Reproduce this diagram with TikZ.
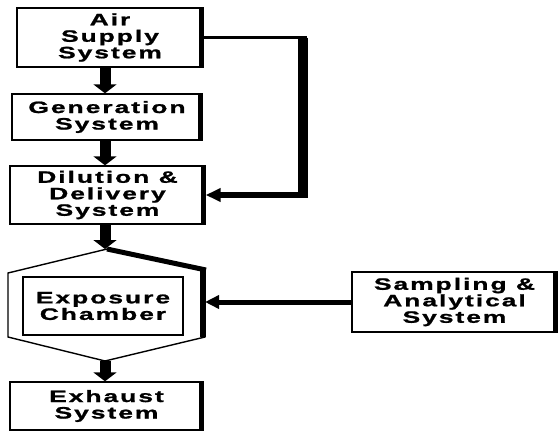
\documentclass[tikz,border=0pt]{standalone}
\usepackage{fontspec}
\newfontfamily\boxfont{Liberation Sans}[FakeStretch=1.6,LetterSpace=12,FakeBold=1.2]
\usetikzlibrary{arrows.meta}
\begin{document}
\begin{tikzpicture}[x=1pt,y=-1pt,
  box/.style={draw,line width=1.4pt,inner sep=0pt,align=center,
    font=\boxfont\bfseries\fontsize{16.5}{16.5}\selectfont},
  shadowedge/.style={line width=5pt},
  flow/.style={line width=11pt,-{Triangle[length=9pt,width=23pt]}}]
\useasboundingbox (0,0) rectangle (558,432);
% boxes
\node[box,minimum width=186pt,minimum height=59pt] (air) at (110,37.5) {Air\\Supply\\System};
\node[box,minimum width=190pt,minimum height=46pt] (gen) at (107,117) {Generation\\System};
\node[box,minimum width=195pt,minimum height=58pt] (dil) at (107.5,195) {Dilution \&\\Delivery\\System};
\node[box,minimum width=193pt,minimum height=48pt] (exh) at (106.5,406) {Exhaust\\System};
\node[box,minimum width=205pt,minimum height=60pt] (samp) at (454.5,302) {Sampling \&\\Analytical\\System};
\node[box,line width=1.1pt,minimum width=160pt,minimum height=58pt] (exp) at (103,306) {Exposure\\Chamber};
% thick right edges
\foreach \n in {air,gen,dil,exh,samp}{
  \draw[shadowedge] ([xshift=-2.5pt]\n.north east) -- ([xshift=-2.5pt]\n.south east);
}
% hexagon chamber housing
\coordinate (hT) at (107,249);
\coordinate (hUR) at (205,270);
\coordinate (hLR) at (205,337);
\coordinate (hB) at (105,361);
\coordinate (hLL) at (8,337);
\coordinate (hUL) at (8,273);
\draw[line width=1.4pt,line join=miter] (hT) -- (hUR) -- (hLR) -- (hB) -- (hLL) -- (hUL) -- cycle;
\draw[line width=5pt] (hT) -- ([xshift=1pt]hUR);
\draw[line width=6pt] ([xshift=-2pt]hUR) -- ([xshift=-2pt]hLR);
% vertical flow arrows
\coordinate (ax) at (105,0);
\draw[flow] (air.south -| ax) -- (gen.north -| ax);
\draw[flow] (gen.south -| ax) -- (dil.north -| ax);
\draw[flow] (dil.south -| ax) -- (hT -| ax);
\draw[flow] (hB -| ax) -- (exh.north -| ax);
% feedback line air -> dilution
\coordinate (fx) at (303,0);
\draw[line width=3.5pt] (air.east) -- ([xshift=4pt]air.east -| fx);
\draw[line width=10pt] (air.east -| fx) -- ([yshift=-3pt]dil.east -| fx);
\draw[line width=6pt,-{Triangle[length=15pt,width=13pt]}] (dil.east -| fx) -- (dil.east);
% sampling -> chamber
\draw[line width=5pt,-{Triangle[length=14pt,width=13pt]}] (samp.west) -- (samp.west -| hLR);
\end{tikzpicture}
\end{document}
